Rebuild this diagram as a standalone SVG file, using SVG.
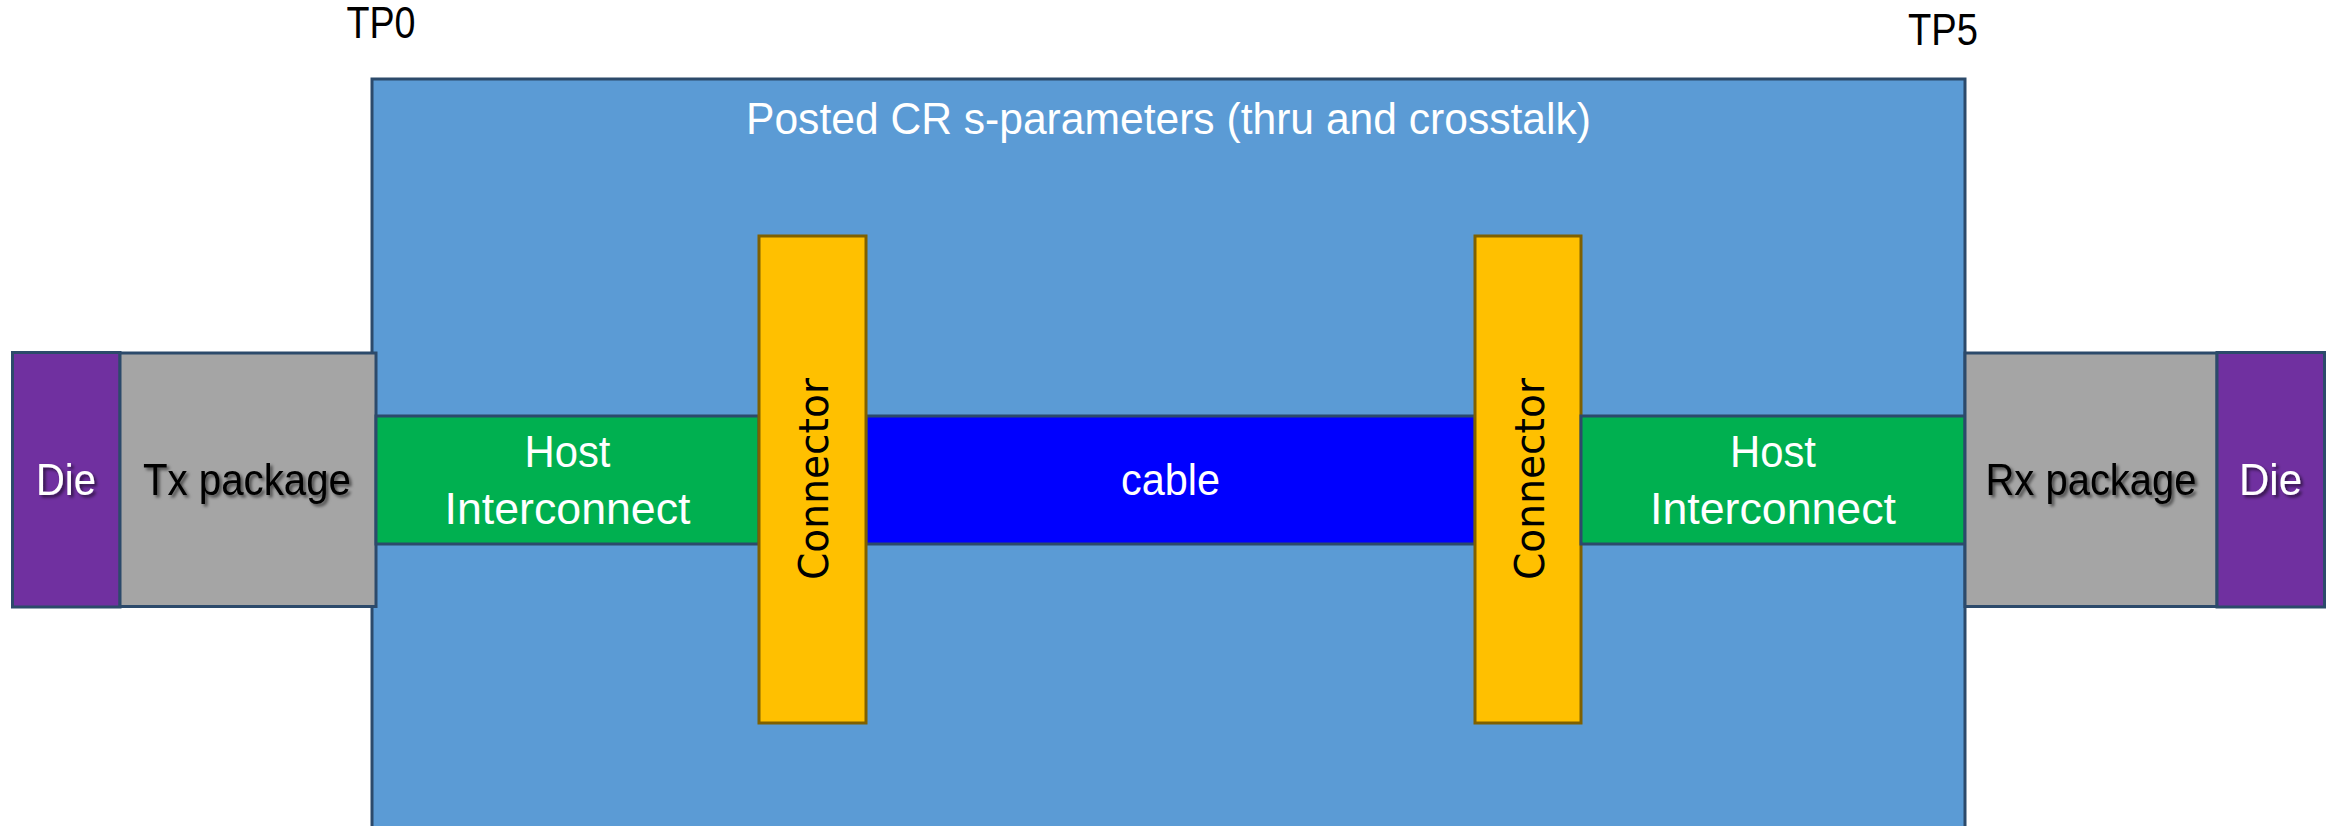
<svg xmlns="http://www.w3.org/2000/svg" width="2334" height="826" viewBox="0 0 2334 826">
  <defs>
    <filter id="shadow" x="-10%" y="-30%" width="130%" height="170%">
      <feDropShadow dx="2.5" dy="2.5" stdDeviation="1.6" flood-color="#000000" flood-opacity="0.55"/>
    </filter>
    <style>
      .frame { fill: #5B9BD5; stroke: #2C4A6B; stroke-width: 3; }
      .die { fill: #7030A0; stroke: #2C4A6B; stroke-width: 3; }
      .pkg { fill: #A5A5A5; stroke: #2C4A6B; stroke-width: 3; }
      .host { fill: #00B050; stroke: #2C4A6B; stroke-width: 3; }
      .cable { fill: #0000FF; stroke: #2C4A6B; stroke-width: 3; }
      .conn { fill: #FFC000; stroke: #7F6000; stroke-width: 3; }
      .lbl { font-family: "Liberation Sans", Arial, sans-serif; font-size: 44px; text-anchor: middle; }
      .w { fill: #FFFFFF; }
      .k { fill: #000000; }
      .vert { font-family: "DejaVu Sans", Verdana, sans-serif; font-size: 40px; text-anchor: middle; fill: #000000; }
      .sh { filter: url(#shadow); }
    </style>
  </defs>

  <!-- test point labels -->
  <g id="tp0"><text class="lbl k" x="381" y="38" textLength="69" lengthAdjust="spacingAndGlyphs">TP0</text></g>
  <g id="tp5"><text class="lbl k" x="1943" y="45" textLength="70" lengthAdjust="spacingAndGlyphs">TP5</text></g>

  <!-- CR s-parameter region -->
  <g id="cr-region">
    <rect class="frame" x="372" y="79" width="1593" height="770"/>
    <text class="lbl w" x="1168.5" y="134" textLength="845" lengthAdjust="spacingAndGlyphs">Posted CR s-parameters (thru and crosstalk)</text>
  </g>

  <!-- transmit side -->
  <g id="tx-die">
    <rect class="die" x="12.5" y="352.5" width="107.5" height="254.5"/>
    <text class="lbl w sh" x="66" y="495" textLength="60" lengthAdjust="spacingAndGlyphs">Die</text>
  </g>
  <g id="tx-package">
    <rect class="pkg" x="120" y="353" width="256" height="253.5"/>
    <text class="lbl k sh" x="247" y="495" textLength="208" lengthAdjust="spacingAndGlyphs">Tx package</text>
  </g>
  <g id="tx-host">
    <rect class="host" x="376" y="416" width="383" height="128"/>
    <text class="lbl w" x="567.5" y="467" textLength="86" lengthAdjust="spacingAndGlyphs">Host</text>
    <text class="lbl w" x="567.5" y="524" textLength="246" lengthAdjust="spacingAndGlyphs">Interconnect</text>
  </g>

  <!-- cable assembly -->
  <g id="cable">
    <rect class="cable" x="866" y="416" width="609" height="128"/>
    <text class="lbl w" x="1170.5" y="495" textLength="99" lengthAdjust="spacingAndGlyphs">cable</text>
  </g>
  <g id="tx-connector">
    <rect class="conn" x="759" y="236" width="107" height="487"/>
    <text class="vert" transform="translate(828 479) rotate(-90)" textLength="202" lengthAdjust="spacingAndGlyphs">Connector</text>
  </g>
  <g id="rx-connector">
    <rect class="conn" x="1475" y="236" width="106" height="487"/>
    <text class="vert" transform="translate(1544 479) rotate(-90)" textLength="202" lengthAdjust="spacingAndGlyphs">Connector</text>
  </g>

  <!-- receive side -->
  <g id="rx-host">
    <rect class="host" x="1581" y="416" width="384" height="128"/>
    <text class="lbl w" x="1773" y="467" textLength="86" lengthAdjust="spacingAndGlyphs">Host</text>
    <text class="lbl w" x="1773" y="524" textLength="246" lengthAdjust="spacingAndGlyphs">Interconnect</text>
  </g>
  <g id="rx-package">
    <rect class="pkg" x="1965" y="353" width="252" height="253.5"/>
    <text class="lbl k sh" x="2091" y="495" textLength="211" lengthAdjust="spacingAndGlyphs">Rx package</text>
  </g>
  <g id="rx-die">
    <rect class="die" x="2217" y="352.5" width="107.5" height="254.5"/>
    <text class="lbl w sh" x="2270.5" y="495" textLength="63" lengthAdjust="spacingAndGlyphs">Die</text>
  </g>
</svg>
